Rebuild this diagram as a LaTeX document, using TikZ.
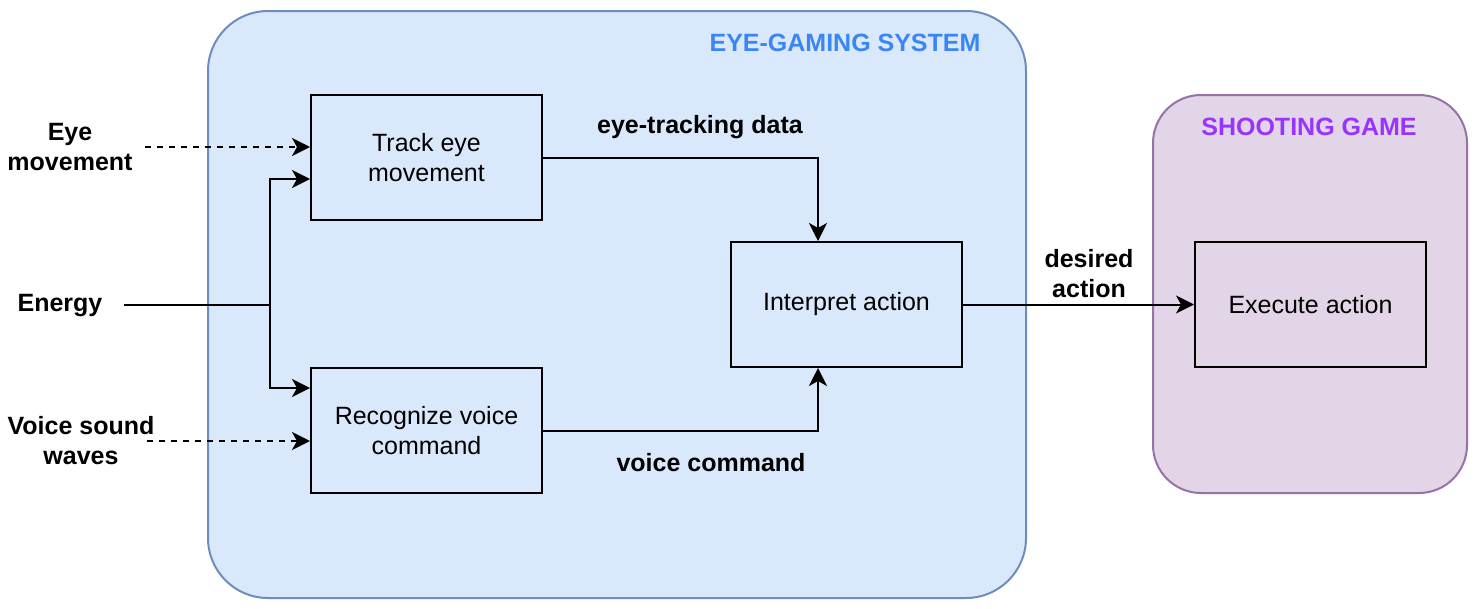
\documentclass[tikz,border=0pt]{standalone}
\usepackage{fontspec}
\setmainfont{Liberation Sans}
\usetikzlibrary{arrows.meta}
\definecolor{sysfill}{HTML}{DAE8FC}
\definecolor{sysdraw}{HTML}{6C8EBF}
\definecolor{gamefill}{HTML}{E1D5E7}
\definecolor{gamedraw}{HTML}{9673A6}
\definecolor{systitle}{HTML}{3A86F5}
\definecolor{gametitle}{HTML}{9933FF}
\begin{document}
\begin{tikzpicture}[x=1pt,y=-1pt,
  every node/.style={font=\fontsize{25}{29.5}\selectfont, align=center},
  container/.style={draw, line width=2pt, inner sep=0pt},
  procbox/.style={draw=black, line width=2pt, minimum width=231pt, minimum height=125pt, inner sep=0pt},
  lbl/.style={font=\fontsize{25}{30}\selectfont\bfseries, inner sep=0pt},
  arr/.style={line width=2pt, -{Stealth[length=18pt,width=18pt,inset=5pt]}},
  dasharr/.style={arr, dash pattern=on 6pt off 6pt},
  plain/.style={line width=2pt}
]
\useasboundingbox (0,0) rectangle (1478,608);
% containers
\node[container, fill=sysfill, draw=sysdraw, rounded corners=60pt,
      minimum width=818pt, minimum height=587pt] (sys) at (617,304.5) {};
\node[container, fill=gamefill, draw=gamedraw, rounded corners=48pt,
      minimum width=314pt, minimum height=398pt] (game) at (1310,294) {};
\node[lbl, text=systitle] (systitle) at (845,43) {EYE-GAMING SYSTEM};
\node[lbl, text=gametitle] (gametitle) at (1309,127) {SHOOTING GAME};
% process boxes
\node[procbox] (track) at (426.5,157.5) {Track eye\\movement};
\node[procbox] (rec) at (426.5,430.5) {Recognize voice\\command};
\node[procbox] (interp) at (846.5,304.5) {Interpret action};
\node[procbox] (exec) at (1310.5,304.5) {Execute action};
% input labels
\node[lbl] (eye) at (70,147) {Eye\\movement};
\node[lbl] (energy) at (60,306) {Energy};
\node[lbl] (voice) at (81,441) {Voice sound\\waves};
\coordinate (eyestart) at (145,147);
\coordinate (enstart) at (124,305);
\coordinate (voicestart) at (147,441);
\coordinate (split) at (270,305);
% connectors
\draw[dasharr] (eyestart) -- ([yshift=10.5pt]track.west);
\draw[dasharr] (voicestart) -- ([yshift=-10.5pt]rec.west);
\draw[plain] (enstart) -- (split);
\draw[arr] (split) |- ([yshift=-21.5pt]track.west);
\draw[arr] (split) |- ([yshift=42.5pt]rec.west);
\draw[arr] (track.east) -| ([xshift=-28.5pt]interp.north);
\draw[arr] (rec.east) -| ([xshift=-28.5pt]interp.south);
\draw[arr] (interp) -- (exec);
% connector labels
\node[lbl] (etd) at (700,127) {eye-tracking data};
\node[lbl] (vc) at (711,463) {voice command};
\node[lbl] (da) at (1089,274) {desired\\action};
\end{tikzpicture}
\end{document}
